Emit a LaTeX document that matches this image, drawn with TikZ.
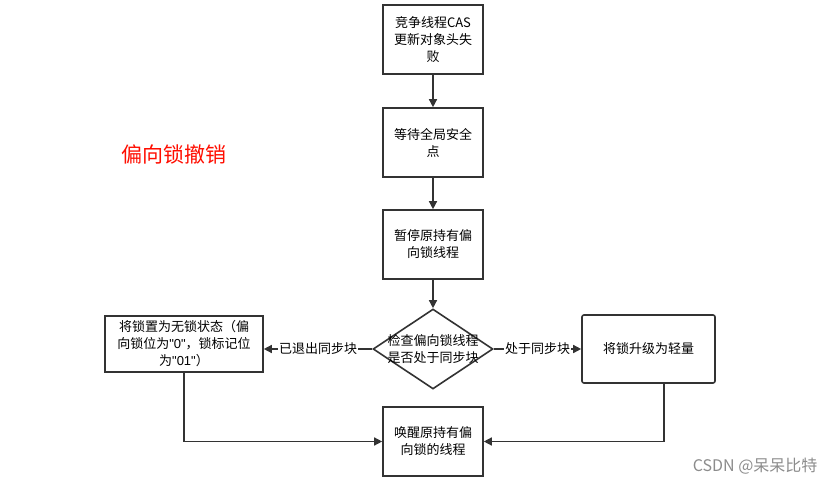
\documentclass[tikz,border=0pt]{standalone}
\usepackage{fontspec}
\setmainfont{Noto Sans CJK SC}
\newfontfamily\latf{Liberation Sans}
\usetikzlibrary{arrows.meta,shapes.geometric}
\newcommand{\qq}[1]{{\latf"#1"}}
\begin{document}
\begin{tikzpicture}[x=1pt,y=-1pt,
  box/.style={draw=black!80,line width=1.6pt,minimum width=100pt,minimum height=69pt,align=center,font=\fontsize{13}{17}\selectfont,inner sep=2pt},
  conn/.style={line width=1.4pt,draw=black!80,-{Triangle[length=8pt,width=8pt]}},
  lbl/.style={font=\fontsize{13}{15}\selectfont,fill=white,inner sep=1pt}]
\path[use as bounding box] (0,0) rectangle (836,484);
\node[box] (b1) at (433,39.5) {竞争线程CAS\\更新对象头失\\败};
\node[box] (b2) at (433,142.5) {等待全局安全\\点};
\node[box] (b3) at (433,244.5) {暂停原持有偏\\向锁线程};
\node[draw=black!80,line width=1.6pt,diamond,aspect=1.5,minimum width=120pt,minimum height=80pt,inner sep=0pt] (d) at (433,349) {};
\node[align=center,font=\fontsize{13}{17}\selectfont,inner sep=0pt] (dt) at (d.center) {检查偏向锁线程\\是否处于同步块};
\node[box,minimum width=158pt,minimum height=56pt] (bl) at (184,344) {将锁置为无锁状态（偏\\向锁位为\qq{0}，锁标记位\\为\qq{01}）};
\node[box,minimum width=133pt,minimum height=68pt,rounded corners=2pt] (br) at (648.5,349) {将锁升级为轻量};
\node[box] (b4) at (433,441.5) {唤醒原持有偏\\向锁的线程};
\node[text=red!90!orange,font=\fontsize{21}{24}\selectfont] (t) at (174,154) {偏向锁撤销};
\node[text=black!45,font=\fontsize{16}{18}\selectfont,anchor=east] (w) at (821,466) {CSDN @呆呆比特};
\coordinate (rb) at (664,383);
\draw[conn] (b1) -- (b2);
\draw[conn] (b2) -- (b3);
\draw[conn] (b3) -- (d);
\draw[conn] (d.west) -- node[lbl] {已退出同步块} (bl.east |- d.west);
\draw[conn] (d.east) -- node[lbl] {处于同步块} (br.west |- d.east);
\draw[conn] (bl.south) |- (b4.west);
\draw[conn] (rb) |- (b4.east);
\end{tikzpicture}
\end{document}
